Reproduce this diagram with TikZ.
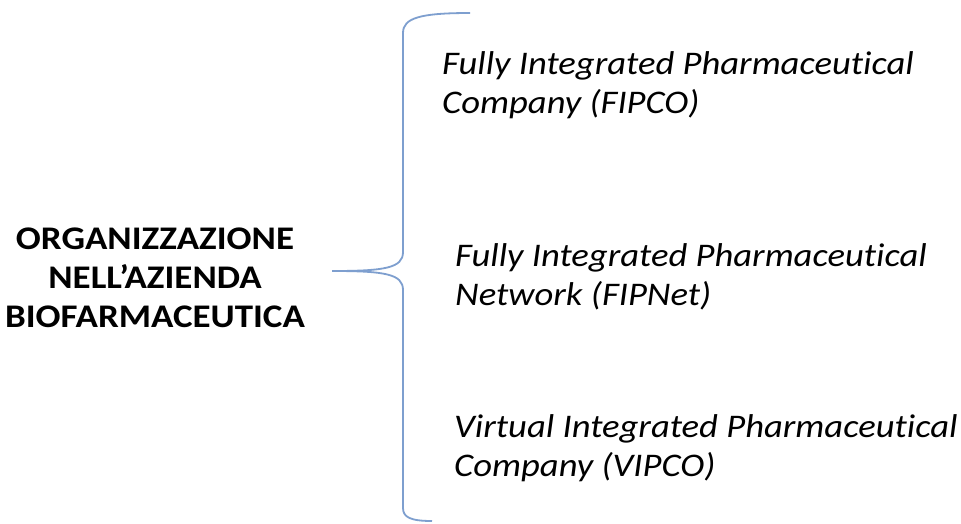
\documentclass[tikz,border=0pt]{standalone}
\usepackage{fontspec}
\setmainfont{Carlito}[Ligatures={NoCommon}]
\begin{document}
\begin{tikzpicture}[x=1pt,y=-1pt,
  title/.style={font=\bfseries\fontsize{33}{39}\selectfont, align=center, inner sep=0pt, xscale=1.12, anchor=base},
  item/.style={font=\itshape\fontsize{33}{39}\selectfont, align=left, inner sep=0pt, xscale=1.11, anchor=base west},
  bracecol/.style={draw=brace, line width=1.8pt}]
\definecolor{brace}{HTML}{7E9FCF}
\useasboundingbox (0,0) rectangle (961,523);
\fill[white] (0,0) rectangle (961,523);

% heading on the left (anchored at the baseline of its last line)
\node[title] (org) at (155,327) {ORGANIZZAZIONE\\NELL’AZIENDA\\BIOFARMACEUTICA};

% the curly brace
\coordinate (btop) at (470,13);
\coordinate (btip) at (332,271);
\coordinate (bbot) at (432,521);
\draw[bracecol] (btop) .. controls (420,13) and (403,18) .. (403,33)
  -- (403,252) .. controls (403,268) and (385,271) .. (btip)
  .. controls (385,271) and (403,274) .. (403,290)
  -- (403,508) .. controls (403,517) and (410,521) .. (bbot);

% the three forms of organisation
\node[item] (fipco) at (442,113) {Fully Integrated Pharmaceutical\\Company (FIPCO)};
\node[item] (fipnet) at (455,305) {Fully Integrated Pharmaceutical\\Network (FIPNet)};
\node[item] (vipco) at (454,476) {Virtual Integrated Pharmaceutical\\Company (VIPCO)};
\end{tikzpicture}
\end{document}
